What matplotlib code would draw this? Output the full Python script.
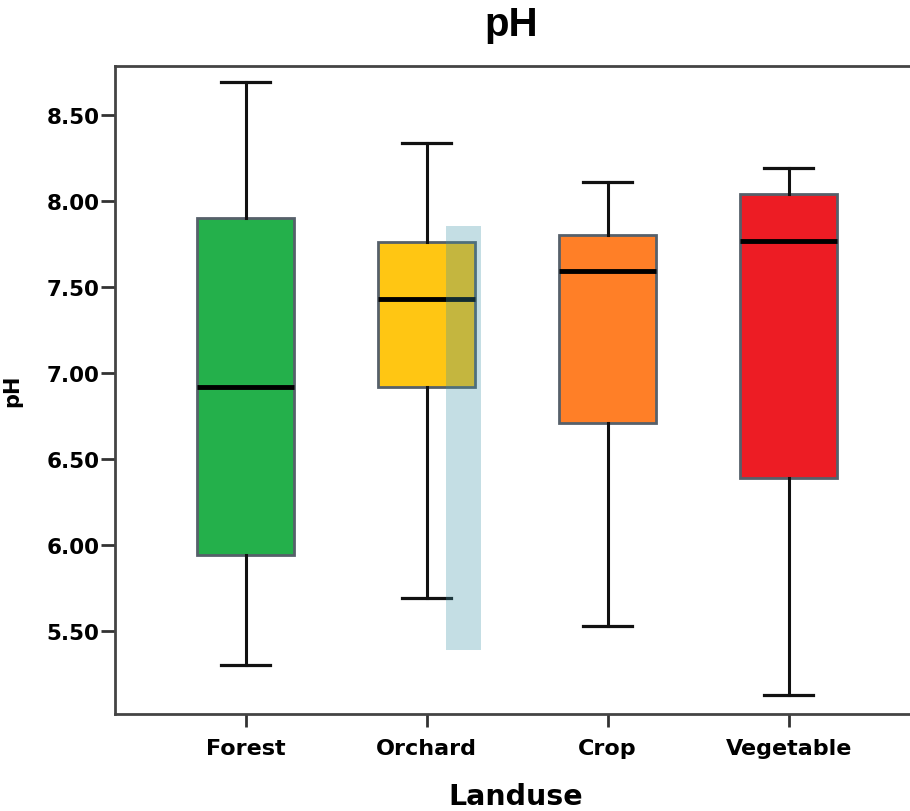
import matplotlib.pyplot as plt
from matplotlib.patches import Rectangle

plt.rcParams.update({
    "figure.facecolor": "white",
    "axes.facecolor": "white",
    "font.family": "DejaVu Sans",
})

# data
landuse = ["Forest", "Orchard", "Crop", "Vegetable"]
whisker_low = [5.30, 5.69, 5.53, 5.13]
q1 = [5.94, 6.92, 6.71, 6.39]
median = [6.92, 7.43, 7.59, 7.77]
q3 = [7.90, 7.76, 7.80, 8.04]
whisker_high = [8.69, 8.34, 8.11, 8.19]
box_colors = ["#24b04b", "#ffc613", "#ff7f27", "#ed1c24"]
yticks = [5.5, 6.0, 6.5, 7.0, 7.5, 8.0, 8.5]

# translucent band that sits over the Orchard box
band_x = [2.105, 2.302]
band_y = [5.39, 7.855]

fig = plt.figure(figsize=(9.1, 8.12), dpi=100)
ax = fig.add_axes([0.1264, 0.1195, 0.8936, 0.798])

stats = []
for i, name in enumerate(landuse):
    stats.append({
        "label": name,
        "whislo": whisker_low[i],
        "q1": q1[i],
        "med": median[i],
        "q3": q3[i],
        "whishi": whisker_high[i],
        "fliers": [],
    })

pos = list(range(1, len(landuse) + 1))
bp = ax.bxp(stats, positions=pos, widths=0.536, capwidths=0.27,
            showfliers=False, patch_artist=True,
            boxprops=dict(edgecolor="#56606a", linewidth=2.0),
            whiskerprops=dict(color="#111111", linewidth=2.2),
            capprops=dict(color="#111111", linewidth=2.3),
            medianprops=dict(color="black", linewidth=3.5))
for patch, c in zip(bp["boxes"], box_colors):
    patch.set_facecolor(c)

ax.add_patch(Rectangle((band_x[0], band_y[0]), band_x[1] - band_x[0],
                       band_y[1] - band_y[0], facecolor=(62/255, 148/255, 168/255),
                       alpha=0.3, edgecolor="none", zorder=5))

ax.set_xlim(0.278, 4.771)
ax.set_ylim(5.017, 8.785)
ax.set_xticks(pos)
ax.set_xticklabels(landuse, fontsize=16, fontweight="bold")
ax.set_yticks(yticks)
ax.set_yticklabels(["%.2f" % v for v in yticks], fontsize=15.5, fontweight="bold")
ax.tick_params(axis="y", length=10, width=2, pad=1, color="#333333")
ax.tick_params(axis="x", length=9.5, width=2, pad=8, color="#333333")

for side in ["left", "bottom", "top"]:
    ax.spines[side].set_linewidth(2)
    ax.spines[side].set_color("#444444")
ax.spines["right"].set_visible(False)

ax.set_ylabel("pH", fontsize=15, fontweight="bold")
ax.yaxis.set_label_coords(-0.1144, 0.5)
ax.set_xlabel("Landuse", fontsize=20.5, fontweight="bold")
ax.xaxis.set_label_coords(0.4926, -0.1265)
ax.xaxis.label.set_va("center")

fig.text(511 / 910, 1 - 25 / 812, "pH", fontsize=29, fontweight="bold",
         family="Liberation Sans", ha="center", va="center")

plt.savefig("out.png", dpi=100, facecolor="white")
plt.close()
